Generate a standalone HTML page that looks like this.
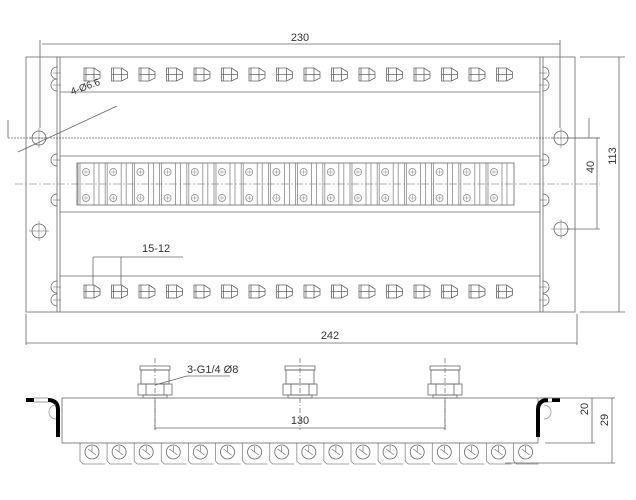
<!DOCTYPE html>
<html><head><meta charset="utf-8"><style>
html,body{margin:0;padding:0;background:#fff}
svg{display:block}
text{font-family:"Liberation Sans",sans-serif;fill:#333}
</style></head><body>
<svg id="s" width="636" height="500" viewBox="0 0 636 500" xmlns="http://www.w3.org/2000/svg" stroke="#666" stroke-width="0.8" fill="none">
<rect x="26" y="57" width="549" height="255"/>
<line x1="57" y1="57" x2="57" y2="312"/><line x1="60" y1="57" x2="60" y2="312"/>
<line x1="540" y1="57" x2="540" y2="312"/><line x1="543" y1="57" x2="543" y2="312"/>
<line x1="60" y1="92" x2="540" y2="92"/>
<line x1="60" y1="156" x2="540" y2="156"/>
<line x1="60" y1="212" x2="540" y2="212"/>
<line x1="60" y1="276" x2="540" y2="276"/>
<line x1="8" y1="138" x2="600" y2="138" stroke-dasharray="2,1"/>
<line x1="15" y1="184" x2="600" y2="184" stroke-dasharray="8,2,2,2" stroke="#999"/>
<rect x="77" y="163" width="437" height="42"/>
<g id="dyn"></g>
<circle cx="39" cy="138" r="7"/><circle cx="39" cy="231" r="7"/>
<circle cx="561" cy="138" r="7"/><circle cx="561" cy="229" r="7"/>
<path d="M39 128v20M29 138h20M39 221v20M29 231h20M561 128v20M551 138h20M561 219v20M551 229h20" stroke-width="0.5"/>
<line x1="42" y1="44" x2="560" y2="44"/>
<line x1="40" y1="40" x2="40" y2="128"/><line x1="560" y1="40" x2="560" y2="128"/>
<text x="300" y="41" font-size="11" stroke="none" text-anchor="middle">230</text>
<line x1="8" y1="120" x2="8" y2="138"/>
<line x1="18" y1="152" x2="117" y2="106"/>
<text x="0" y="0" font-size="10" stroke="none" transform="translate(72,95) rotate(-20)">4-Ø6.6</text>
<line x1="26" y1="314" x2="26" y2="345"/><line x1="577" y1="314" x2="577" y2="345"/>
<line x1="26" y1="343" x2="577" y2="343"/>
<text x="330" y="339" font-size="11" stroke="none" text-anchor="middle">242</text>
<line x1="580" y1="57" x2="625" y2="57"/><line x1="580" y1="312" x2="625" y2="312"/>
<line x1="619" y1="57" x2="619" y2="312"/>
<text transform="translate(616,156) rotate(-90)" font-size="11" stroke="none" text-anchor="middle">113</text>
<line x1="567" y1="138" x2="600" y2="138"/><line x1="567" y1="229" x2="600" y2="229"/>
<line x1="597" y1="138" x2="597" y2="229"/>
<line x1="589" y1="118" x2="589" y2="138"/>
<text transform="translate(594,167) rotate(-90)" font-size="11" stroke="none" text-anchor="middle">40</text>
<line x1="93" y1="257" x2="183" y2="257"/>
<line x1="93" y1="257" x2="93" y2="285"/><line x1="121" y1="257" x2="121" y2="285"/>
<text x="142" y="252" font-size="11" stroke="none">15-12</text>
<rect x="62" y="398" width="476" height="45"/>
<path d="M26 400h8" stroke="#000" stroke-width="4"/>
<path d="M34 398h14M34 402h14" stroke="#777" stroke-width="0.8"/>
<path d="M48 400q10 0 10 10v27" stroke="#000" stroke-width="4"/>
<path d="M552 400h8" stroke="#000" stroke-width="4"/>
<path d="M538 398h14M538 402h14" stroke="#777" stroke-width="0.8"/>
<path d="M548 400q-10 0-10 10v27" stroke="#000" stroke-width="4"/>
<path d="M56 405a7 7 0 0 0 0 14M544 405a7 7 0 0 1 0 14" stroke="#999"/>
<line x1="155" y1="428" x2="445" y2="428"/>
<line x1="155" y1="400" x2="155" y2="430"/><line x1="445" y1="400" x2="445" y2="430"/>
<text x="300" y="424" font-size="11" stroke="none" text-anchor="middle">130</text>
<line x1="540" y1="398" x2="615" y2="398"/><line x1="545" y1="443" x2="595" y2="443"/><line x1="505" y1="463" x2="615" y2="463"/>
<line x1="592" y1="398" x2="592" y2="443"/><line x1="612" y1="398" x2="612" y2="463"/>
<text transform="translate(588,409) rotate(-90)" font-size="11" stroke="none" text-anchor="middle">20</text>
<text transform="translate(608,420) rotate(-90)" font-size="11" stroke="none" text-anchor="middle">29</text>
<line x1="155" y1="385" x2="187" y2="376"/>
<line x1="187" y1="376" x2="230" y2="376"/>
<text x="187" y="373" font-size="11" stroke="none">3-G1/4 Ø8</text>
</svg>
<script>
var g=document.getElementById('dyn'),h='';
for(var i=0;i<16;i++){var x=84+i*27.5;
 [68,285].forEach(function(y){h+='<path d="M'+x+' '+y+'h10l6 4v6l-6 3h-10z M'+(x+2)+' '+y+'v13 M'+(x+10)+' '+y+'v13 M'+x+' '+(y+6.5)+'h16"/>';});}
for(var i=0;i<16;i++){var x=77+i*27.2;
 h+='<line x1="'+(x+1)+'" y1="163" x2="'+(x+1)+'" y2="205" stroke="#888"/><line x1="'+(x+3)+'" y1="163" x2="'+(x+3)+'" y2="205" stroke="#888"/>';
 h+='<line x1="'+(x+17)+'" y1="163" x2="'+(x+17)+'" y2="205" stroke="#888"/><line x1="'+(x+22)+'" y1="163" x2="'+(x+22)+'" y2="205" stroke="#888"/>';
 [172,198].forEach(function(y){h+='<circle cx="'+(x+9)+'" cy="'+y+'" r="3.5" stroke="#888"/><path d="M'+(x+6.5)+' '+y+'h5M'+(x+9)+' '+(y-2.5)+'v5" stroke-width="0.5" stroke="#888"/>';});}
[73,85,160,200,287,300].forEach(function(y){
 h+='<path d="M57 '+(y-6)+'a6 6 0 0 0 0 12M543 '+(y-6)+'a6 6 0 0 1 0 12"/><path d="M53 '+y+'h8M539 '+y+'h8" stroke-width="0.5"/>';});
[155,300,445].forEach(function(c){
 h+='<rect x="'+(c-15)+'" y="366" width="30" height="4"/><rect x="'+(c-14)+'" y="370" width="28" height="14"/>';
 h+='<rect x="'+(c-17)+'" y="384" width="34" height="11"/><path d="M'+(c-9)+' 384v11M'+(c+9)+' 384v11"/><rect x="'+(c-12)+'" y="395" width="24" height="3"/>';
 h+='<line x1="'+c+'" y1="358" x2="'+c+'" y2="430" stroke-dasharray="5,2,1,2" stroke="#777"/>';});
for(var i=0;i<17;i++){var x=80+i*27.1;
 h+='<path d="M'+x+' 443v18l3 3h'+22+'" stroke="#888"/><circle cx="'+(x+12)+'" cy="452" r="7"/><path d="M'+(x+8)+' 449l8 6M'+(x+12)+' 446v6" stroke-width="0.6"/>';}
g.innerHTML=h;
</script>
</body></html>
